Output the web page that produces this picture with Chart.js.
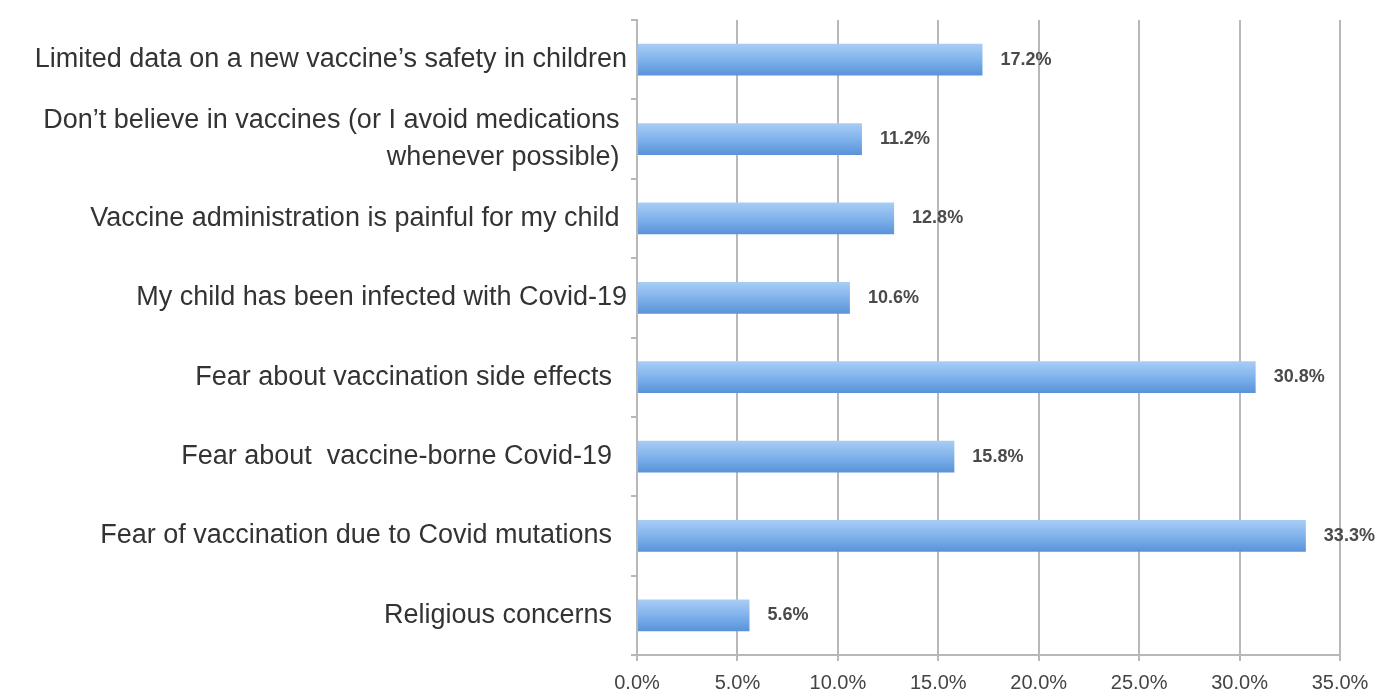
<!DOCTYPE html>
<html>
<head>
<meta charset="utf-8">
<script src="https://cdn.jsdelivr.net/npm/chart.js@4"></script>
<style>
  html, body { margin: 0; padding: 0; background: #fff; }
  #wrap { width: 1386px; height: 697px; }
</style>
</head>
<body>
<div id="wrap"><canvas id="reasonChart" width="1386" height="697"></canvas></div>
<script>
// reasons for not vaccinating, top to bottom
var reasons = [
  "Limited data on a new vaccine\u2019s safety in children",
  ["Don\u2019t believe in vaccines (or I avoid medications ", "whenever possible) "],
  "Vaccine administration is painful for my child ",
  "My child has been infected with Covid-19",
  "Fear about vaccination side effects  ",
  "Fear about  vaccine-borne Covid-19  ",
  "Fear of vaccination due to Covid mutations  ",
  "Religious concerns  "
];
var percents = [17.2, 11.2, 12.8, 10.6, 30.8, 15.8, 33.3, 5.6];
var xTicks = [0, 5, 10, 15, 20, 25, 30, 35];

function barFill(context) {
  var chart = context.chart;
  var yScale = chart.scales && chart.scales.y;
  if (!chart.chartArea || !yScale) return "#6fa6e6";
  var cy = yScale.getPixelForValue(context.dataIndex);
  var h = (chart.chartArea.bottom - chart.chartArea.top) / reasons.length * 0.4;
  if (!isFinite(cy) || !isFinite(h)) return "#6fa6e6";
  var g = chart.ctx.createLinearGradient(0, cy - h / 2, 0, cy + h / 2);
  g.addColorStop(0, "#a9cdf5");
  g.addColorStop(0.5, "#80b3ec");
  g.addColorStop(1, "#5892d8");
  return g;
}

// little plugin to write the value after each bar
var valueLabels = {
  id: "valueLabels",
  afterDatasetsDraw: function(chart) {
    var ctx = chart.ctx;
    var meta = chart.getDatasetMeta(0);
    ctx.save();
    ctx.font = "bold 18px 'Liberation Sans', sans-serif";
    ctx.fillStyle = "#4a4a4a";
    ctx.textAlign = "left";
    ctx.textBaseline = "middle";
    meta.data.forEach(function(bar, i) {
      ctx.fillText(percents[i].toFixed(1) + "%", bar.x + 18, bar.y);
    });
    ctx.restore();
  }
};

var RC = document.getElementById("reasonChart");
var reasonChart = new Chart(RC, {
  type: "bar",
  data: {
    labels: reasons,
    datasets: [{
      data: percents,
      backgroundColor: barFill,
      borderWidth: 0,
      categoryPercentage: 0.8,
      barPercentage: 0.5
    }]
  },
  options: {
    indexAxis: "y",
    responsive: false,
    animation: false,
    layout: { padding: { top: 20, right: 46, bottom: 2, left: 0 } },
    plugins: { legend: { display: false }, tooltip: { enabled: false } },
    scales: {
      x: {
        min: 0,
        max: 35,
        afterBuildTicks: function(axis) {
          axis.ticks = xTicks.map(function(v) { return { value: v }; });
        },
        afterFit: function(axis) { axis.height = 40; },
        grid: { color: "#b8b8b8", lineWidth: 2, tickLength: 6 },
        border: { color: "#b8b8b8", width: 2 },
        ticks: {
          color: "#444",
          font: { family: "'Liberation Sans', sans-serif", size: 20 },
          padding: 10,
          maxRotation: 0,
          callback: function(v) { return Number(v).toFixed(1) + "%"; }
        }
      },
      y: {
        afterFit: function(axis) {
          axis.width = 637;
          axis.paddingTop = 0;
          axis.paddingBottom = 0;
        },
        grid: { drawOnChartArea: false, color: "#b8b8b8", lineWidth: 2, tickLength: 6, offset: true },
        border: { color: "#b8b8b8", width: 2 },
        ticks: {
          color: "#333",
          font: { family: "'Liberation Sans', sans-serif", size: 27, lineHeight: 1.4 },
          padding: 4,
          autoSkip: false
        }
      }
    }
  },
  plugins: [valueLabels]
});
</script>
</body>
</html>
